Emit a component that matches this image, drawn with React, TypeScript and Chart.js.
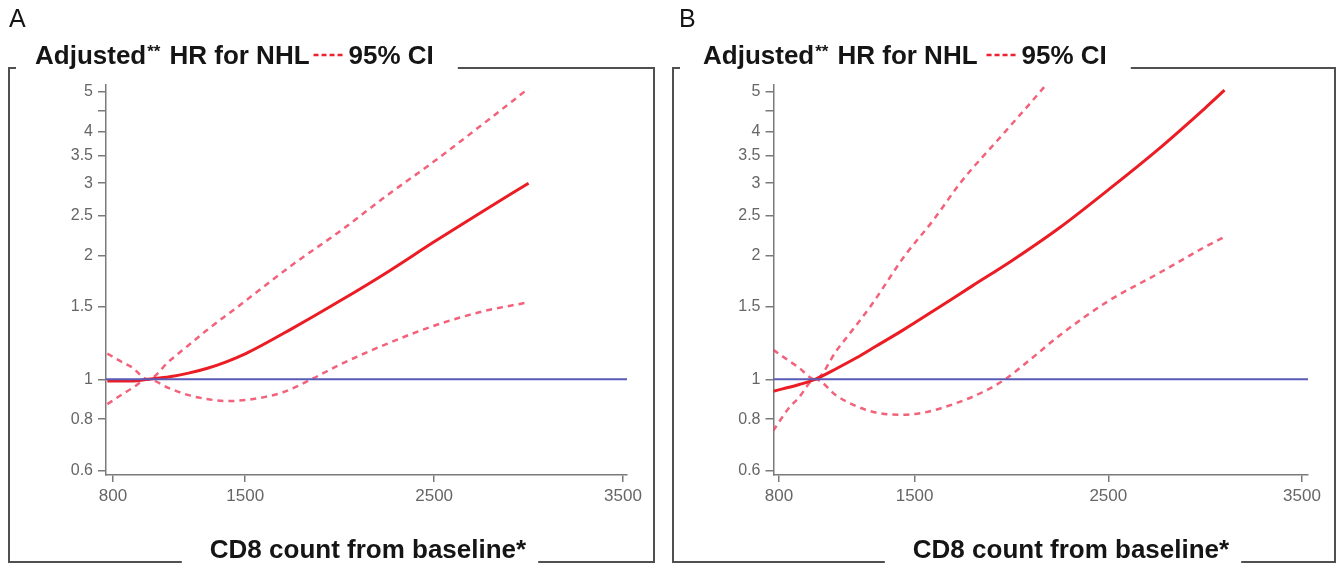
import React, { useEffect, useRef } from 'react';
import { Chart, registerables } from 'chart.js';

Chart.register(...registerables);

// ---------- shared axis data ----------
const X_TICKS = [800, 1500, 2500, 3500];
const Y_TICKS = [0.6, 0.8, 1, 1.5, 2, 2.5, 3, 3.5, 4, 4.5, 5];
const Y_TICK_LABELS = ['0.6', '0.8', '1', '1.5', '2', '2.5', '3', '3.5', '4', '', '5'];
const Y_MIN = 0.585;
const Y_MAX = 5.2;
const REF_HR = 1;

const TITLE_MAIN = 'Adjusted';
const TITLE_STARS = '**';
const TITLE_REST = 'HR for NHL';
const TITLE_CI = '95% CI';
const X_TITLE = 'CD8 count from baseline*';

// ---------- panel A data ----------
const A_X_RANGE = [763, 3521];
const A_HR_X = [770, 900, 985, 1100, 1200, 1300, 1400, 1500, 1750, 2000, 2250, 2500, 2750, 3000];
const A_HR_Y = [0.99, 0.99, 1.0, 1.014, 1.035, 1.064, 1.103, 1.153, 1.33, 1.55, 1.82, 2.16, 2.55, 3.0];
const A_UP_X = [770, 850, 900, 985, 1100, 1200, 1300, 1500, 1750, 2000, 2250, 2500, 2750, 3000];
const A_UP_Y = [1.155, 1.1, 1.07, 1.0, 1.11, 1.21, 1.32, 1.55, 1.9, 2.29, 2.8, 3.39, 4.15, 5.1];
const A_LO_X = [770, 850, 900, 985, 1100, 1200, 1300, 1400, 1500, 1600, 1700, 1850, 2000, 2250, 2500, 2750, 3000];
const A_LO_Y = [0.87, 0.92, 0.95, 1.0, 0.95, 0.915, 0.895, 0.885, 0.89, 0.905, 0.93, 1.0, 1.085, 1.22, 1.35, 1.46, 1.54];

// ---------- panel B data ----------
const B_X_RANGE = [771.6, 3531];
const B_HR_X = [770, 900, 986, 1100, 1200, 1300, 1440, 1600, 1800, 2000, 2250, 2500, 2750, 3000, 3100];
const B_HR_Y = [0.935, 0.97, 1.0, 1.064, 1.128, 1.203, 1.317, 1.47, 1.69, 1.94, 2.34, 2.89, 3.6, 4.57, 5.05];
const B_UP_X = [770, 850, 900, 986, 1100, 1270, 1450, 1600, 1735, 1967, 2147, 2300];
const B_UP_Y = [1.18, 1.11, 1.07, 1.0, 1.18, 1.5, 2.0, 2.45, 3.0, 4.0, 5.0, 6.1];
const B_LO_X = [770, 850, 900, 986, 1100, 1200, 1300, 1425, 1550, 1700, 1850, 1967, 2100, 2250, 2500, 2750, 3000, 3100];
const B_LO_Y = [0.75, 0.85, 0.9, 1.0, 0.91, 0.86, 0.83, 0.82, 0.83, 0.87, 0.93, 1.0, 1.12, 1.28, 1.55, 1.8, 2.1, 2.22];

const FONT = '"Liberation Sans", Arial, Helvetica, sans-serif';

type PanelCfg = {
  letter: string;
  canvasLeft: number;
  width: number;
  xRange: number[];
  hrX: number[]; hrY: number[];
  upX: number[]; upY: number[];
  loX: number[]; loY: number[];
  padLeft: number; yAxisW: number; padRight: number;
  letterX: number; frameL: number; frameR: number;
  titleX: number; dashSpace: boolean; xTitleCX: number;
};

const PANEL_A: PanelCfg = {
  letter: 'A', canvasLeft: 0, width: 664, xRange: A_X_RANGE,
  hrX: A_HR_X, hrY: A_HR_Y, upX: A_UP_X, upY: A_UP_Y, loX: A_LO_X, loY: A_LO_Y,
  padLeft: 10, yAxisW: 96, padRight: 37,
  letterX: 9, frameL: 9, frameR: 654, titleX: 35, dashSpace: false, xTitleCX: 368,
};

const PANEL_B: PanelCfg = {
  letter: 'B', canvasLeft: 664, width: 677, xRange: B_X_RANGE,
  hrX: B_HR_X, hrY: B_HR_Y, upX: B_UP_X, upY: B_UP_Y, loX: B_LO_X, loY: B_LO_Y,
  padLeft: 10, yAxisW: 99.5, padRight: 33,
  letterX: 15, frameL: 9, frameR: 671, titleX: 39, dashSpace: true, xTitleCX: 407,
};

const pts = (xs: number[], ys: number[]) => xs.map((x, i) => ({ x, y: ys[i] }));

function makeDecor(d: PanelCfg) {
  return {
    id: 'decor' + d.letter,
    afterDraw(chart: any) {
      const ctx: CanvasRenderingContext2D = chart.ctx;
      const FT = 68;
      const FB = 562;
      ctx.save();
      ctx.textAlign = 'left';
      ctx.textBaseline = 'alphabetic';
      ctx.fillStyle = '#151515';
      // panel letter
      ctx.font = `25px ${FONT}`;
      ctx.fillText(d.letter, d.letterX, 27);
      // title
      const by = 64;
      let x = d.titleX;
      ctx.font = `bold 26px ${FONT}`;
      ctx.fillText(TITLE_MAIN, x, by);
      x += ctx.measureText(TITLE_MAIN).width + 1;
      ctx.font = `bold 17px ${FONT}`;
      ctx.fillText(TITLE_STARS, x, by - 7);
      x += ctx.measureText(TITLE_STARS).width + 9;
      ctx.font = `bold 26px ${FONT}`;
      ctx.fillText(TITLE_REST, x, by);
      x += ctx.measureText(TITLE_REST).width + (d.dashSpace ? 9 : 4);
      ctx.strokeStyle = '#ee2030';
      ctx.lineWidth = 2.5;
      ctx.setLineDash([5, 3]);
      ctx.beginPath();
      ctx.moveTo(x, by - 9);
      ctx.lineTo(x + 29, by - 9);
      ctx.stroke();
      ctx.setLineDash([]);
      x += 29 + 6;
      ctx.fillText(TITLE_CI, x, by);
      x += ctx.measureText(TITLE_CI).width;
      const topLineStart = x + 24;
      // bottom title
      ctx.textAlign = 'center';
      ctx.fillText(X_TITLE, d.xTitleCX, 558);
      const tw = ctx.measureText(X_TITLE).width;
      const bLeftEnd = d.xTitleCX - tw / 2 - 28;
      const bRightStart = d.xTitleCX + tw / 2 + 12;
      // frame
      ctx.strokeStyle = '#505050';
      ctx.lineWidth = 2;
      ctx.beginPath();
      ctx.moveTo(d.frameL + 7, FT);
      ctx.lineTo(d.frameL, FT);
      ctx.lineTo(d.frameL, FB);
      ctx.lineTo(bLeftEnd, FB);
      ctx.moveTo(topLineStart, FT);
      ctx.lineTo(d.frameR, FT);
      ctx.lineTo(d.frameR, FB);
      ctx.lineTo(bRightStart, FB);
      ctx.stroke();
      ctx.restore();
    },
  };
}

function Panel({ cfg }: { cfg: PanelCfg }) {
  const ref = useRef<HTMLCanvasElement>(null);
  useEffect(() => {
    const canvas = ref.current!;
    const chart = new Chart(canvas, {
      type: 'line',
      data: {
        datasets: [
          {
            data: pts([cfg.xRange[0], cfg.xRange[1]], [REF_HR, REF_HR]),
            borderColor: '#5a5ab8',
            borderWidth: 2,
            pointRadius: 0,
            fill: false,
          },
          {
            data: pts(cfg.hrX, cfg.hrY),
            borderColor: '#ec1c24',
            borderWidth: 3,
            pointRadius: 0,
            fill: false,
            cubicInterpolationMode: 'monotone',
          },
          {
            data: pts(cfg.upX, cfg.upY),
            borderColor: 'rgba(240, 70, 100, 0.85)',
            borderWidth: 2.5,
            borderDash: [6, 5],
            pointRadius: 0,
            fill: false,
            cubicInterpolationMode: 'monotone',
          },
          {
            data: pts(cfg.loX, cfg.loY),
            borderColor: 'rgba(240, 70, 100, 0.85)',
            borderWidth: 2.5,
            borderDash: [6, 5],
            pointRadius: 0,
            fill: false,
            cubicInterpolationMode: 'monotone',
          },
        ],
      } as any,
      options: {
        animation: false,
        responsive: false,
        events: [],
        layout: { padding: { left: cfg.padLeft, right: cfg.padRight, top: 85, bottom: 44 } },
        plugins: { legend: { display: false }, tooltip: { enabled: false }, title: { display: false } },
        scales: {
          x: {
            type: 'linear',
            bounds: 'data',
            min: cfg.xRange[0],
            max: cfg.xRange[1],
            afterBuildTicks: (s: any) => { s.ticks = X_TICKS.map((v) => ({ value: v })); },
            afterFit: (s: any) => { s.height = 45; },
            grid: { drawOnChartArea: false, drawTicks: true, tickLength: 7, color: '#7a7a7a', lineWidth: 1.5 },
            border: { display: true, color: '#7a7a7a', width: 1.5 },
            ticks: {
              autoSkip: false, maxRotation: 0, padding: 4, color: '#666',
              font: { size: 17, family: FONT },
              callback: (v: any) => String(v),
            },
          },
          y: {
            type: 'logarithmic',
            bounds: 'data',
            min: Y_MIN,
            max: Y_MAX,
            afterBuildTicks: (s: any) => { s.ticks = Y_TICKS.map((v) => ({ value: v })); },
            afterFit: (s: any) => { s.width = cfg.yAxisW; },
            grid: { drawOnChartArea: false, drawTicks: true, tickLength: 8, color: '#7a7a7a', lineWidth: 1.5 },
            border: { display: true, color: '#7a7a7a', width: 1.5 },
            ticks: {
              autoSkip: false, padding: 5, color: '#666',
              font: { size: 16, family: FONT },
              callback: (_v: any, i: number) => Y_TICK_LABELS[i],
            },
          },
        },
      } as any,
      plugins: [makeDecor(cfg)],
    });
    return () => chart.destroy();
  }, [cfg]);
  return (
    <canvas
      ref={ref}
      width={cfg.width}
      height={564}
      style={{ position: 'absolute', left: cfg.canvasLeft, top: 0, width: cfg.width, height: 564 }}
    />
  );
}

export default function App() {
  return (
    <div style={{ position: 'absolute', left: 0, top: 0, width: 1341, height: 564, background: '#fff', overflow: 'hidden' }}>
      <Panel cfg={PANEL_A} />
      <Panel cfg={PANEL_B} />
    </div>
  );
}
